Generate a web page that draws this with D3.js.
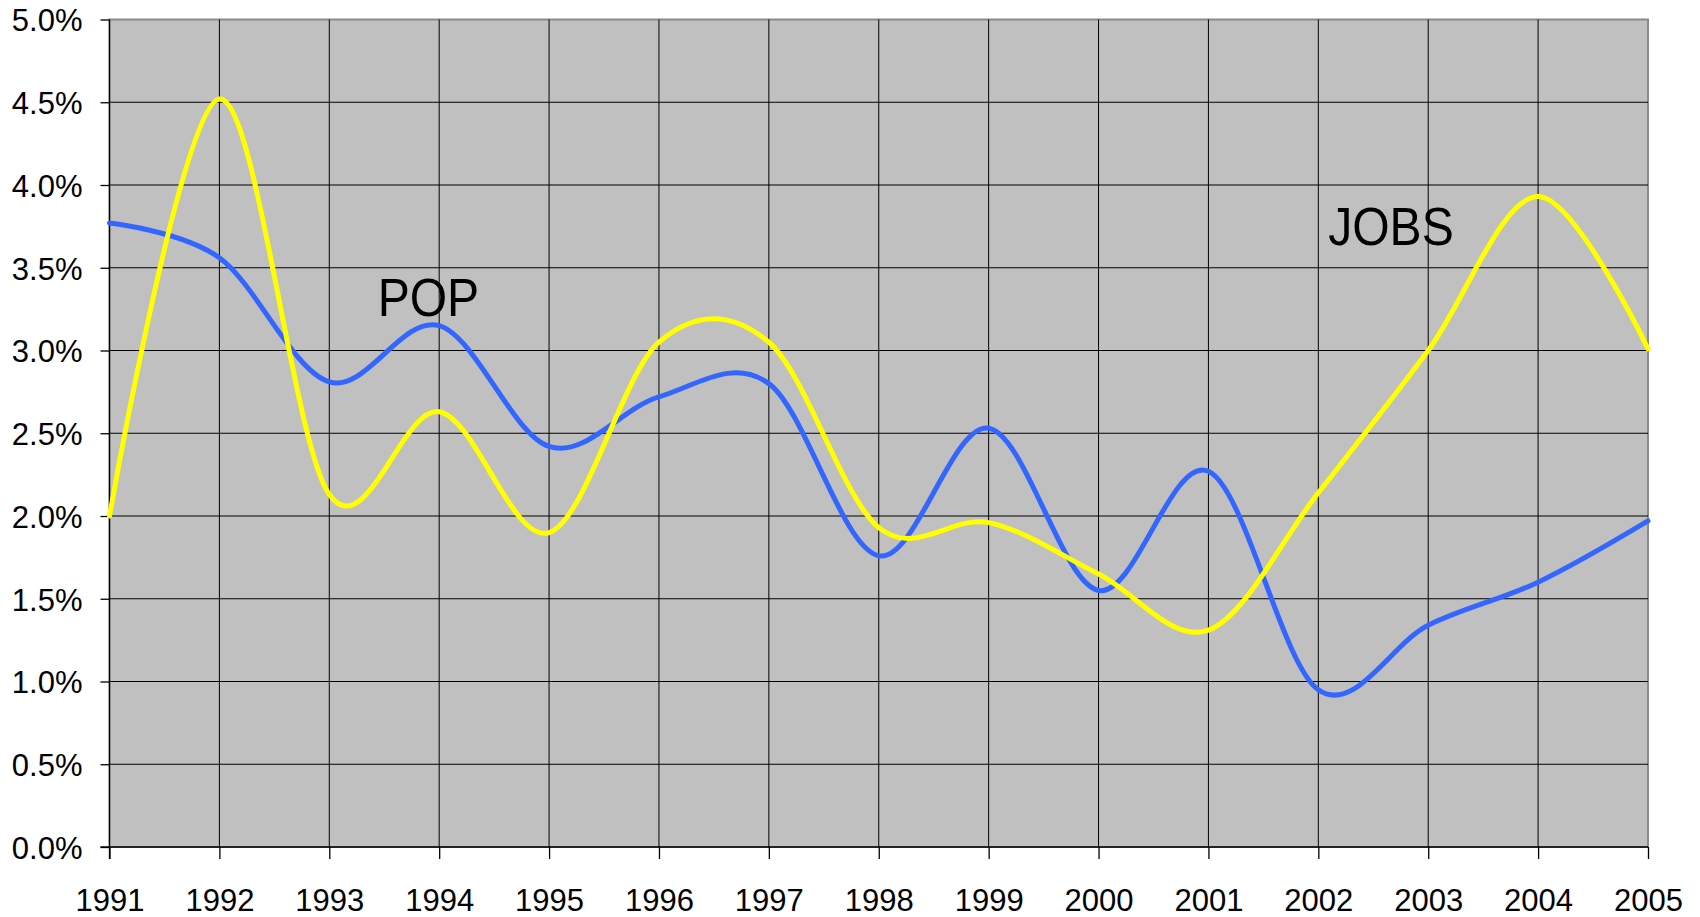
<!DOCTYPE html>
<meta charset="utf-8">
<head>
<style>
body { margin: 0; background: #fff; }
text { font-family: Arial, "Liberation Sans", sans-serif; fill: #000; }
.axis path, .axis line { stroke: #000; stroke-width: 1.3px; }
.grid line { stroke: #000; stroke-width: 1px; }
.series { fill: none; stroke-width: 5px; stroke-linejoin: round; stroke-linecap: round; }
</style>
</head>
<body>
<svg width="1700" height="917"></svg>
<script src="https://d3js.org/d3.v7.min.js"></script>
<script>

// yearly growth rates, %
var years = [1991, 1992, 1993, 1994, 1995, 1996, 1997, 1998, 1999, 2000, 2001, 2002, 2003, 2004, 2005];
var popGrowth  = [3.77, 3.56, 2.81, 3.15, 2.42, 2.72, 2.80, 1.76, 2.53, 1.55, 2.27, 0.95, 1.34, 1.60, 1.97];
var jobsGrowth = [2.00, 4.52, 2.13, 2.63, 1.90, 3.05, 3.05, 1.93, 1.96, 1.65, 1.31, 2.14, 3.00, 3.93, 3.01];
var yTicks = [0, 0.5, 1, 1.5, 2, 2.5, 3, 3.5, 4, 4.5, 5];

var svg = d3.select("svg");
// note: "top" is taken by window.top, so plot edges get their own names
var plotL = 109.5, plotR = 1648, plotT = 19.5, plotB = 847;

var x = d3.scaleLinear().domain([1991, 2005]).range([plotL, plotR]);
var y = d3.scaleLinear().domain([0, 5]).range([plotB, plotT]);

// plot background
svg.append("rect")
    .attr("x", plotL).attr("y", plotT)
    .attr("width", plotR - plotL).attr("height", plotB - plotT)
    .attr("fill", "#c0c0c0")
    .attr("stroke", "#8a8a8a")
    .attr("stroke-width", 2);

// gridlines
var grid = svg.append("g").attr("class", "grid");
grid.selectAll(".h").data(yTicks.slice(1, -1)).enter().append("line")
    .attr("x1", plotL).attr("x2", plotR)
    .attr("y1", function(d) { return y(d); }).attr("y2", function(d) { return y(d); });
grid.selectAll(".v").data(years.slice(1, -1)).enter().append("line")
    .attr("y1", plotT).attr("y2", plotB)
    .attr("x1", function(d) { return x(d); }).attr("x2", function(d) { return x(d); });

// axes
var yAxis = svg.append("g")
    .attr("class", "axis")
    .attr("transform", "translate(" + plotL + ",0)")
    .call(d3.axisLeft(y).tickValues(yTicks).tickSize(9).tickPadding(18)
      .tickFormat(function(d) { return d.toFixed(1) + "%"; }));
yAxis.selectAll("text").attr("font-size", 31).attr("dy", "0.37em")
    .attr("font-family", 'Arial, "Liberation Sans", sans-serif');

var xAxis = svg.append("g")
    .attr("class", "axis")
    .attr("transform", "translate(0," + plotB + ")")
    .call(d3.axisBottom(x).tickValues(years).tickSize(12).tickPadding(30)
      .tickFormat(d3.format("d")));
xAxis.selectAll("text").attr("font-size", 31)
    .attr("font-family", 'Arial, "Liberation Sans", sans-serif');
svg.selectAll(".axis .domain").remove();
svg.append("line").attr("x1", plotL).attr("x2", plotL).attr("y1", plotT).attr("y2", plotB + 12)
    .attr("stroke", "#000").attr("stroke-width", 1.3);
svg.append("line").attr("x1", plotL - 9).attr("x2", plotR).attr("y1", plotB).attr("y2", plotB)
    .attr("stroke", "#000").attr("stroke-width", 1.5);

// smoothed lines (uniform catmull-rom, like excel's smoothing)
var line = d3.line()
    .x(function(d, i) { return x(years[i]); })
    .y(function(d) { return y(d); })
    .curve(d3.curveCardinal.tension(0));

svg.append("path").datum(popGrowth)
    .attr("class", "series")
    .attr("stroke", "#3366ff")
    .attr("d", line);

svg.append("path").datum(jobsGrowth)
    .attr("class", "series")
    .attr("stroke", "#ffff00")
    .attr("d", line);

// series labels
function label(txt, yr, val) {
  svg.append("text")
      .attr("transform", "translate(" + x(yr) + "," + y(val) + ") scale(0.89,1)")
      .attr("font-size", 54)
      .text(txt);
}
label("POP", 1993.44, 3.21);
label("JOBS", 2002.09, 3.64);

</script>
</body>
